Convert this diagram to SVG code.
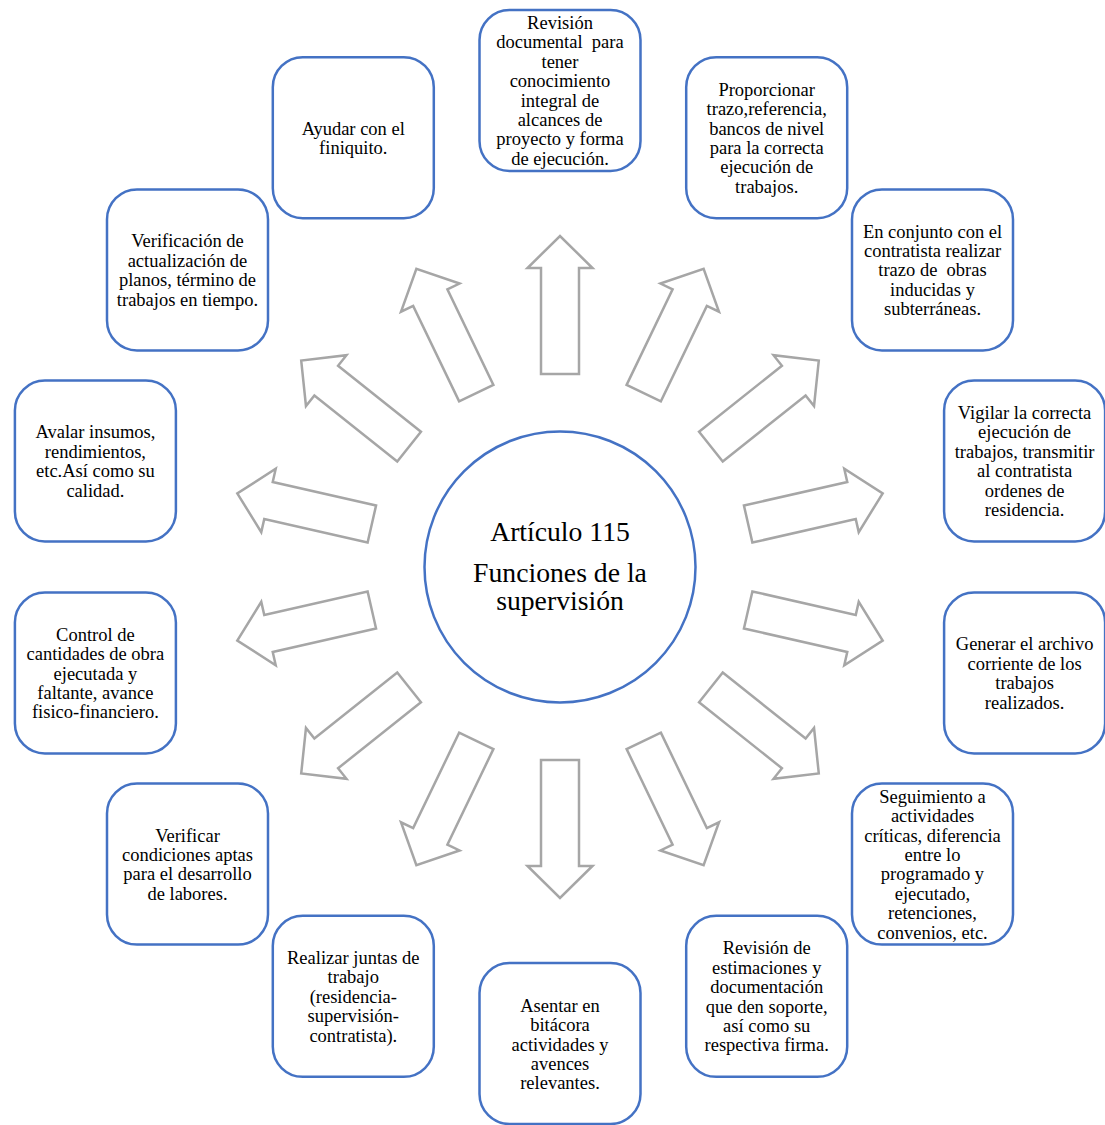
<svg xmlns="http://www.w3.org/2000/svg" xmlns:xlink="http://www.w3.org/1999/xlink" width="1105" height="1125" viewBox="0 0 1105 1125">
<style>
.box{fill:#fff;stroke:#4472C4;stroke-width:2.5}
.arr{fill:#fff;stroke:#A6A6A6;stroke-width:2.5;stroke-linejoin:miter}
.t{font-family:"Liberation Serif","Times New Roman",serif;font-size:18.5px;fill:#000;text-anchor:middle;white-space:pre}
.c{font-family:"Liberation Serif","Times New Roman",serif;font-size:27.7px;fill:#000;text-anchor:middle}
</style>
<defs>
<polygon id="arrow" class="arr" points="541,374 541,268 527.5,268 560,236 592.5,268 579,268 579,374"/>
</defs>
<rect width="1105" height="1125" fill="#fff"/>
<g id="connectors">
<use xlink:href="#arrow" href="#arrow"/>
<use xlink:href="#arrow" href="#arrow" transform="rotate(25.714 560 567)"/>
<use xlink:href="#arrow" href="#arrow" transform="rotate(51.429 560 567)"/>
<use xlink:href="#arrow" href="#arrow" transform="rotate(77.143 560 567)"/>
<use xlink:href="#arrow" href="#arrow" transform="rotate(102.857 560 567)"/>
<use xlink:href="#arrow" href="#arrow" transform="rotate(128.571 560 567)"/>
<use xlink:href="#arrow" href="#arrow" transform="rotate(154.286 560 567)"/>
<use xlink:href="#arrow" href="#arrow" transform="rotate(180 560 567)"/>
<use xlink:href="#arrow" href="#arrow" transform="rotate(205.714 560 567)"/>
<use xlink:href="#arrow" href="#arrow" transform="rotate(231.429 560 567)"/>
<use xlink:href="#arrow" href="#arrow" transform="rotate(257.143 560 567)"/>
<use xlink:href="#arrow" href="#arrow" transform="rotate(282.857 560 567)"/>
<use xlink:href="#arrow" href="#arrow" transform="rotate(308.571 560 567)"/>
<use xlink:href="#arrow" href="#arrow" transform="rotate(334.286 560 567)"/>
</g>
<g id="center">
<circle cx="560" cy="567" r="135.5" fill="#fff" stroke="#4472C4" stroke-width="2.5"/>
<text class="c" x="560" y="541">Artículo 115</text>
<text class="c" x="560" y="582">Funciones de la</text>
<text class="c" x="560" y="610">supervisión</text>
</g>
<g id="n0">
<rect class="box" x="479.5" y="10" width="161" height="161" rx="30"/>
<text class="t" x="560"><tspan x="560" y="29">Revisión</tspan><tspan x="560" y="48.4">documental  para</tspan><tspan x="560" y="67.8">tener</tspan><tspan x="560" y="87.2">conocimiento</tspan><tspan x="560" y="106.6">integral de</tspan><tspan x="560" y="126">alcances de</tspan><tspan x="560" y="145.4">proyecto y forma</tspan><tspan x="560" y="164.8">de ejecución.</tspan></text>
</g>
<g id="n1">
<rect class="box" x="686.2" y="57.2" width="161" height="161" rx="30"/>
<text class="t"><tspan x="766.7" y="95.7">Proporcionar</tspan><tspan x="766.7" y="115.1">trazo,referencia,</tspan><tspan x="766.7" y="134.5">bancos de nivel</tspan><tspan x="766.7" y="153.9">para la correcta</tspan><tspan x="766.7" y="173.3">ejecución de</tspan><tspan x="766.7" y="192.7">trabajos.</tspan></text>
</g>
<g id="n2">
<rect class="box" x="852" y="189.4" width="161" height="161" rx="30"/>
<text class="t"><tspan x="932.5" y="237.6">En conjunto con el</tspan><tspan x="932.5" y="257">contratista realizar</tspan><tspan x="932.5" y="276.4">trazo de  obras</tspan><tspan x="932.5" y="295.8">inducidas y</tspan><tspan x="932.5" y="315.2">subterráneas.</tspan></text>
</g>
<g id="n3">
<rect class="box" x="944.1" y="380.5" width="161" height="161" rx="30"/>
<text class="t"><tspan x="1024.6" y="419">Vigilar la correcta</tspan><tspan x="1024.6" y="438.4">ejecución de</tspan><tspan x="1024.6" y="457.8">trabajos, transmitir</tspan><tspan x="1024.6" y="477.2">al contratista</tspan><tspan x="1024.6" y="496.6">ordenes de</tspan><tspan x="1024.6" y="516">residencia.</tspan></text>
</g>
<g id="n4">
<rect class="box" x="944.1" y="592.5" width="161" height="161" rx="30"/>
<text class="t"><tspan x="1024.6" y="650.4">Generar el archivo</tspan><tspan x="1024.6" y="669.8">corriente de los</tspan><tspan x="1024.6" y="689.2">trabajos</tspan><tspan x="1024.6" y="708.6">realizados.</tspan></text>
</g>
<g id="n5">
<rect class="box" x="852" y="783.6" width="161" height="161" rx="30"/>
<text class="t"><tspan x="932.5" y="802.7">Seguimiento a</tspan><tspan x="932.5" y="822.1">actividades</tspan><tspan x="932.5" y="841.5">críticas, diferencia</tspan><tspan x="932.5" y="860.9">entre lo</tspan><tspan x="932.5" y="880.3">programado y</tspan><tspan x="932.5" y="899.7">ejecutado,</tspan><tspan x="932.5" y="919.1">retenciones,</tspan><tspan x="932.5" y="938.5">convenios, etc.</tspan></text>
</g>
<g id="n6">
<rect class="box" x="686.2" y="915.8" width="161" height="161" rx="30"/>
<text class="t"><tspan x="766.7" y="954.3">Revisión de</tspan><tspan x="766.7" y="973.7">estimaciones y</tspan><tspan x="766.7" y="993.1">documentación</tspan><tspan x="766.7" y="1012.5">que den soporte,</tspan><tspan x="766.7" y="1031.9">así como su</tspan><tspan x="766.7" y="1051.3">respectiva firma.</tspan></text>
</g>
<g id="n7">
<rect class="box" x="479.5" y="963" width="161" height="161" rx="30"/>
<text class="t"><tspan x="560" y="1011.8">Asentar en</tspan><tspan x="560" y="1031.2">bitácora</tspan><tspan x="560" y="1050.6">actividades y</tspan><tspan x="560" y="1070">avences</tspan><tspan x="560" y="1089.4">relevantes.</tspan></text>
</g>
<g id="n8">
<rect class="box" x="272.8" y="915.8" width="161" height="161" rx="30"/>
<text class="t"><tspan x="353.3" y="964">Realizar juntas de</tspan><tspan x="353.3" y="983.4">trabajo</tspan><tspan x="353.3" y="1002.8">(residencia-</tspan><tspan x="353.3" y="1022.2">supervisión-</tspan><tspan x="353.3" y="1041.6">contratista).</tspan></text>
</g>
<g id="n9">
<rect class="box" x="107" y="783.6" width="161" height="161" rx="30"/>
<text class="t"><tspan x="187.5" y="841.5">Verificar</tspan><tspan x="187.5" y="860.9">condiciones aptas</tspan><tspan x="187.5" y="880.3">para el desarrollo</tspan><tspan x="187.5" y="899.7">de labores.</tspan></text>
</g>
<g id="n10">
<rect class="box" x="14.9" y="592.5" width="161" height="161" rx="30"/>
<text class="t"><tspan x="95.4" y="640.7">Control de</tspan><tspan x="95.4" y="660.1">cantidades de obra</tspan><tspan x="95.4" y="679.5">ejecutada y</tspan><tspan x="95.4" y="698.9">faltante, avance</tspan><tspan x="95.4" y="718.3">fisico-financiero.</tspan></text>
</g>
<g id="n11">
<rect class="box" x="14.9" y="380.5" width="161" height="161" rx="30"/>
<text class="t"><tspan x="95.4" y="438.4">Avalar insumos,</tspan><tspan x="95.4" y="457.8">rendimientos,</tspan><tspan x="95.4" y="477.2">etc.Así como su</tspan><tspan x="95.4" y="496.6">calidad.</tspan></text>
</g>
<g id="n12">
<rect class="box" x="107" y="189.4" width="161" height="161" rx="30"/>
<text class="t"><tspan x="187.5" y="247.3">Verificación de</tspan><tspan x="187.5" y="266.7">actualización de</tspan><tspan x="187.5" y="286.1">planos, término de</tspan><tspan x="187.5" y="305.5">trabajos en tiempo.</tspan></text>
</g>
<g id="n13">
<rect class="box" x="272.8" y="57.2" width="161" height="161" rx="30"/>
<text class="t"><tspan x="353.3" y="134.5">Ayudar con el</tspan><tspan x="353.3" y="153.9">finiquito.</tspan></text>
</g>
</svg>
